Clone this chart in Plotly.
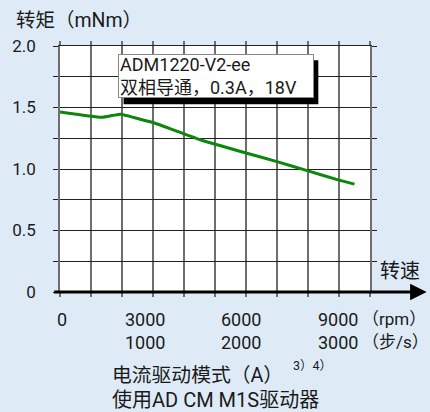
import plotly.graph_objects as go

# Data
speed_rpm = [0, 1350, 1950, 2650, 3000, 4500, 6000, 7000, 8000, 9000, 9500]
torque_mNm = [1.463, 1.42, 1.445, 1.40, 1.378, 1.24, 1.13, 1.06, 0.985, 0.91, 0.877]

y_ticks = [0, 0.25, 0.5, 0.75, 1.0, 1.25, 1.5, 1.75, 2.0]
y_tick_text = ["0", "", "0.5", "", "1.0", "", "1.5", "", "2.0"]

rpm_tick_vals = [0, 3000, 6000, 9000]
rpm_tick_text = ["0", "3000", "6000", "9000"]
step_tick_text = ["", "1000", "2000", "3000"]
tick_shift = [2, -8, -5, -1]

BG = "#deebf6"
FONT = "Roboto, Noto Sans CJK SC"
TXT = "#1a1a1a"

fig = go.Figure()
fig.add_trace(go.Scatter(
    x=speed_rpm, y=torque_mNm, mode="lines",
    line=dict(color="#0b870b", width=3, shape="spline", smoothing=0.4),
    hoverinfo="skip", showlegend=False,
))

fig.update_layout(
    width=430, height=412,
    margin=dict(l=58, r=60, t=46, b=120),
    paper_bgcolor=BG, plot_bgcolor="white",
    font=dict(family=FONT, size=18, color=TXT),
    showlegend=False,
)
fig.update_xaxes(
    range=[0, 10000], dtick=1000, tick0=0,
    showgrid=True, gridcolor="#6e6e6e", gridwidth=1.6,
    showline=True, linecolor="#222", linewidth=1, mirror="ticks",
    ticks="outside", ticklen=4, tickcolor="#6e6e6e", tickwidth=1.6,
    showticklabels=False, zeroline=False, fixedrange=True,
)
fig.update_yaxes(
    range=[0, 2.0], tickvals=y_ticks, ticktext=y_tick_text,
    showgrid=True, gridcolor="#222", gridwidth=1,
    showline=True, linecolor="#6e6e6e", linewidth=1.6, mirror="ticks",
    ticks="outside", ticklen=5, tickcolor="#222", tickwidth=1,
    ticklabelstandoff=14, zeroline=False, fixedrange=True,
    tickfont=dict(size=17, color=TXT),
)

# pixel -> paper helpers for decorations
def px_x(p):
    return (p - 58) / 312.0

def px_y(p):
    return (291.7 - p) / 246.0

# info box shadow
fig.add_shape(type="rect", xref="paper", yref="paper",
              x0=px_x(122), x1=px_x(318), y0=px_y(104), y1=px_y(60),
              fillcolor="black", line=dict(width=0), layer="above")

CAP = 20
ann = []
# x axis arrow
ann.append(dict(x=px_x(427), y=0, xref="paper", yref="y", ax=-374, ay=0,
                axref="pixel", ayref="pixel", showarrow=True, arrowhead=2,
                arrowsize=1.1, arrowwidth=3, arrowcolor="black", text=""))
# x tick labels (two rows)
for v, t1, t2, s in zip(rpm_tick_vals, rpm_tick_text, step_tick_text, tick_shift):
    ann.append(dict(x=v, y=px_y(319), xref="x", yref="paper", text=t1, showarrow=False,
                    xanchor="center", yanchor="middle", xshift=s))
    if t2:
        ann.append(dict(x=v, y=px_y(342), xref="x", yref="paper", text=t2, showarrow=False,
                        xanchor="center", yanchor="middle", xshift=s))
ann.append(dict(x=px_x(360), y=px_y(319), xref="paper", yref="paper", text="（rpm）",
                showarrow=False, xanchor="left", yanchor="middle", font=dict(size=17)))
ann.append(dict(x=px_x(360), y=px_y(342), xref="paper", yref="paper", text="（步/s）",
                showarrow=False, xanchor="left", yanchor="middle", font=dict(size=17)))
# axis titles
ann.append(dict(x=px_x(400), y=px_y(271), xref="paper", yref="paper", text="转速",
                showarrow=False, xanchor="center", yanchor="middle", font=dict(size=CAP)))
ann.append(dict(x=px_x(12), y=px_y(20), xref="paper", yref="paper", text="转矩（mNm）",
                showarrow=False, xanchor="left", yanchor="middle", font=dict(size=19.5)))
# bottom captions
ann.append(dict(x=px_x(108), y=px_y(375), xref="paper", yref="paper", text="电流驱动模式（A）",
                showarrow=False, xanchor="left", yanchor="middle", font=dict(size=19.8)))
ann.append(dict(x=px_x(290), y=px_y(365.5), xref="paper", yref="paper", text="3）4）",
                showarrow=False, xanchor="left", yanchor="middle", font=dict(size=12.5)))
ann.append(dict(x=px_x(108), y=px_y(400), xref="paper", yref="paper", text="使用AD CM M1S驱动器",
                showarrow=False, xanchor="left", yanchor="middle", font=dict(size=CAP)))
# info box
box_text = "ADM1220-V2-ee<br>双相导通，0.3A，18V"
ann.append(dict(x=px_x(116), y=px_y(54), xref="paper", yref="paper", text=box_text,
                showarrow=False, xanchor="left", yanchor="top", align="left",
                bgcolor="white", bordercolor="#888", borderwidth=1,
                width=192, height=40, borderpad=1, font=dict(size=18, color=TXT)))
fig.update_layout(annotations=ann)

fig.write_html("out.html", config={"displayModeBar": False},
               post_script="document.body.style.margin='0';")
